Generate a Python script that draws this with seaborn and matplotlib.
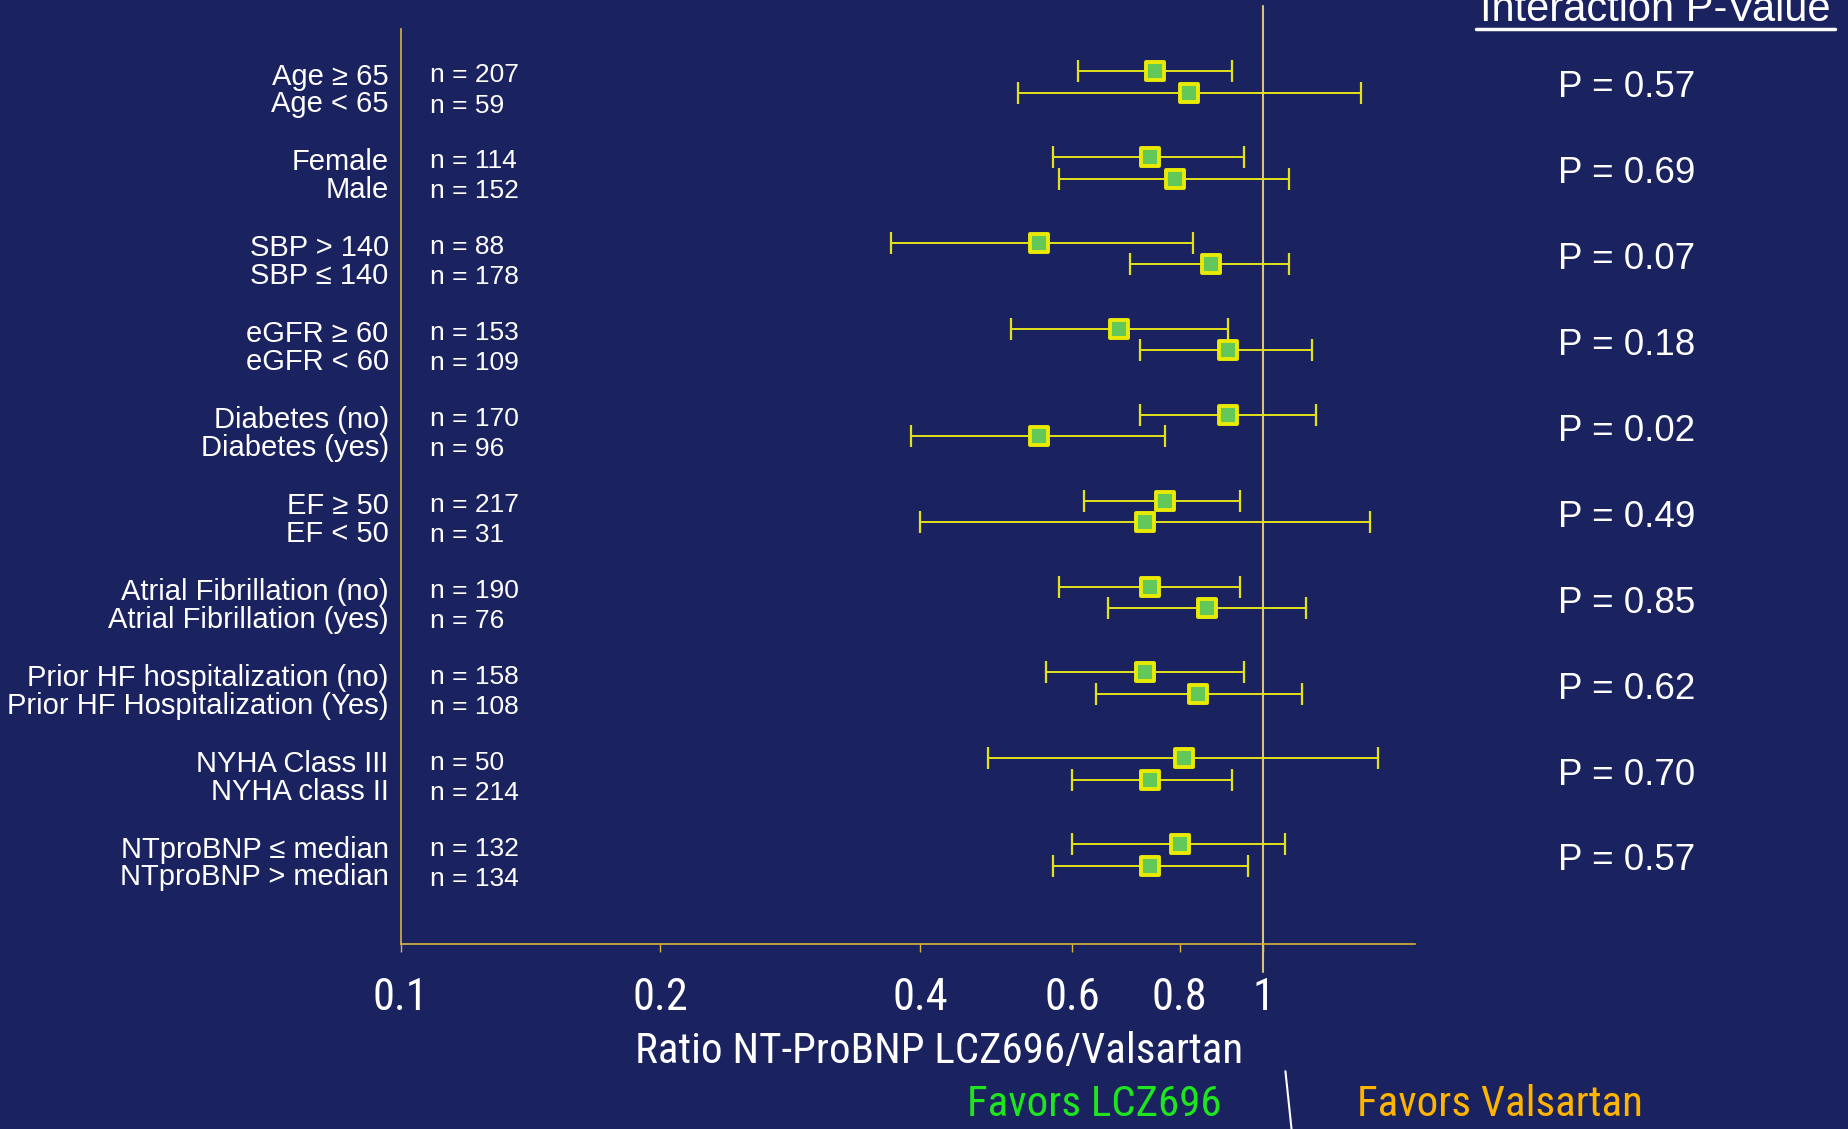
import pandas as pd
import seaborn as sns
import matplotlib.pyplot as plt
import matplotlib.font_manager as fm
from matplotlib.lines import Line2D
from matplotlib.ticker import FixedLocator, NullLocator

labels = ["Age ≥ 65", "Age < 65", "Female", "Male", "SBP > 140", "SBP ≤ 140",
          "eGFR ≥ 60", "eGFR < 60", "Diabetes (no)", "Diabetes (yes)",
          "EF ≥ 50", "EF < 50", "Atrial Fibrillation (no)", "Atrial Fibrillation (yes)",
          "Prior HF hospitalization (no)", "Prior HF Hospitalization (Yes)",
          "NYHA Class III", "NYHA class II", "NTproBNP ≤ median", "NTproBNP > median"]
n_values = [207, 59, 114, 152, 88, 178, 153, 109, 170, 96,
            217, 31, 190, 76, 158, 108, 50, 214, 132, 134]
ratio = [0.75, 0.82, 0.74, 0.79, 0.55, 0.87, 0.68, 0.91, 0.91, 0.55,
         0.77, 0.73, 0.74, 0.86, 0.73, 0.84, 0.81, 0.74, 0.80, 0.74]
lower = [0.61, 0.52, 0.57, 0.58, 0.37, 0.70, 0.51, 0.72, 0.72, 0.39,
         0.62, 0.40, 0.58, 0.66, 0.56, 0.64, 0.48, 0.60, 0.60, 0.57]
upper = [0.92, 1.30, 0.95, 1.07, 0.83, 1.07, 0.91, 1.14, 1.15, 0.77,
         0.94, 1.33, 0.94, 1.12, 0.95, 1.11, 1.36, 0.92, 1.06, 0.96]
p_values = ["0.57", "0.69", "0.07", "0.18", "0.02", "0.49", "0.85", "0.62", "0.70", "0.57"]
x_ticks = [0.1, 0.2, 0.4, 0.6, 0.8, 1]
x_tick_labels = ["0.1", "0.2", "0.4", "0.6", "0.8", "1"]

bg = "#1b2260"
gold = "#d9b43a"
bar_col = "#e2e21c"

df = pd.DataFrame({"label": labels, "n": n_values, "ratio": ratio,
                   "lower": lower, "upper": upper})
df["y"] = [4 * (i // 2) + (i % 2) for i in range(len(df))]

# the slide uses a condensed Arial for the axis texts; pick one if present
names = {f.name for f in fm.fontManager.ttflist}
narrow, narrow_size = "Liberation Sans", 27
for cand in ["Liberation Sans Narrow", "Roboto Condensed", "Open Sans Condensed"]:
    if cand in names:
        narrow, narrow_size = cand, 31
        break

sns.set_theme(style="ticks")
plt.rcParams["font.family"] = ["Liberation Sans", "DejaVu Sans"]

fig = plt.figure(figsize=(18.49, 11.29), dpi=100, facecolor=bg)
ax = fig.add_axes([0.2168, 0.164, 0.5485, 0.8308])
ax.set_facecolor(bg)

# confidence intervals
ax.errorbar(df["ratio"], df["y"],
            xerr=[df["ratio"] - df["lower"], df["upper"] - df["ratio"]],
            fmt="none", ecolor=bar_col, elinewidth=1.4, capsize=8, capthick=1.6, zorder=2)
sns.scatterplot(data=df, x="ratio", y="y", marker="s", s=170, color="#62c85a",
                edgecolor="#eaea00", linewidth=2.8, zorder=3, ax=ax, legend=False)

ax.axvline(1, ymin=-0.03, ymax=1.0, color="#d8c474", lw=1.5, zorder=1, clip_on=False)

ax.set_xscale("log")
ax.set_xlim(0.1, 1.5)
ax.set_ylim(40.64, -3.04)
ax.xaxis.set_major_locator(FixedLocator(x_ticks))
ax.xaxis.set_minor_locator(NullLocator())
ax.set_xticklabels(x_tick_labels, fontsize=narrow_size + 1, color="white", family=narrow)
ax.set_yticks([])
ax.tick_params(axis="x", length=6, width=1, color=gold, pad=18)

for s in ["top", "right"]:
    ax.spines[s].set_visible(False)
for s in ["left", "bottom"]:
    ax.spines[s].set_color(gold)
    ax.spines[s].set_linewidth(1.2)
ax.spines["left"].set_bounds(40.64, -1.95)

ax.set_xlabel("Ratio NT-ProBNP LCZ696/Valsartan", fontsize=narrow_size,
              color="white", family=narrow)
ax.xaxis.set_label_coords(0.531, -0.093)
ax.set_ylabel("")

trans = ax.get_yaxis_transform()
for i, row in df.iterrows():
    g, k = divmod(i, 2)
    ax.text(-0.012, 4 * g + 0.25 + 1.3 * k, row["label"], transform=trans,
            ha="right", va="center", fontsize=21, color="white")
    ax.text(0.029, 4 * g + 0.2 + 1.4 * k, f"n = {row['n']}", transform=trans,
            ha="left", va="center", fontsize=19, color="white")

for g, p in enumerate(p_values):
    ax.text(1.209, 4 * g + 0.78, f"P = {p}", transform=trans,
            ha="center", va="center", fontsize=26.5, color="white")

fig.text(0.8954, 0.981, "Interaction P-Value", ha="center", va="baseline",
         fontsize=30, color="white")
fig.add_artist(Line2D([0.7985, 0.9923], [0.974, 0.974], color="white", lw=2.5))

fig.text(0.592, 0.022, "Favors LCZ696", ha="center", va="center",
         fontsize=narrow_size, color="#1ee61e", family=narrow)
fig.text(0.811, 0.022, "Favors Valsartan", ha="center", va="center",
         fontsize=narrow_size, color="#ffb400", family=narrow)
fig.add_artist(Line2D([0.6952, 0.6985], [0.0512, 0.0], color="white", lw=1.5))

fig.savefig("out.png", dpi=100, facecolor=bg)
